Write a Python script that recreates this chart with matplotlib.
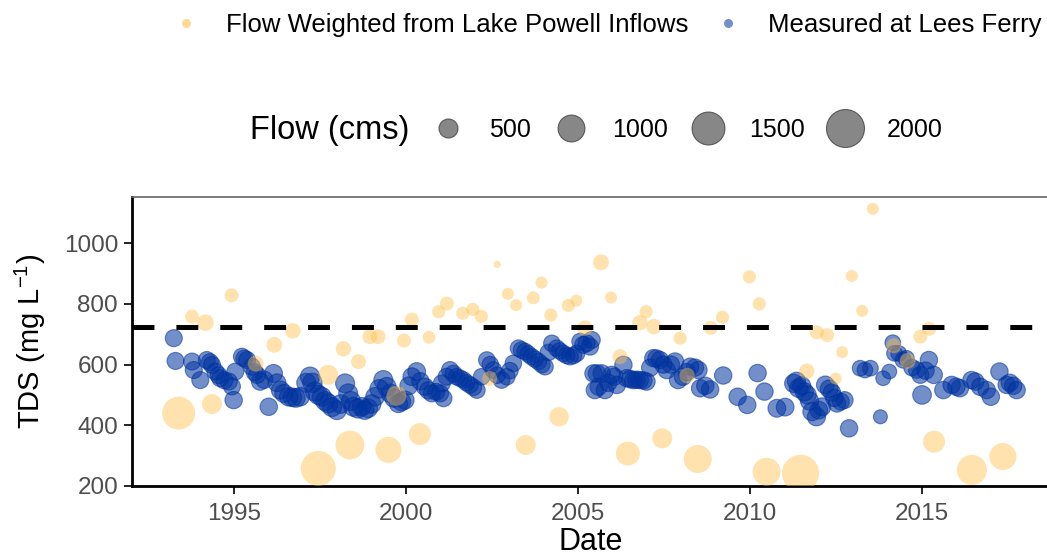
import matplotlib
matplotlib.use("Agg")
import matplotlib.pyplot as plt
from matplotlib.lines import Line2D

plt.rcParams["font.family"] = ["Liberation Sans", "DejaVu Sans"]
plt.rcParams["lines.scale_dashes"] = False

# ---- data -------------------------------------------------------------
# Flow weighted TDS of the Lake Powell inflows (decimal year, mg/L, cms)
inflow_date = [1993.39, 1993.78, 1994.17, 1994.36, 1994.93, 1995.63, 1996.17, 1996.71,
               1997.45, 1997.74, 1998.18, 1998.37, 1998.62, 1998.95, 1999.19, 1999.49,
               1999.72, 1999.94, 2000.17, 2000.40, 2000.67, 2000.95, 2001.19, 2001.65,
               2001.94, 2002.19, 2002.43, 2002.65, 2002.96, 2003.20, 2003.48, 2003.70,
               2003.94, 2004.21, 2004.45, 2004.72, 2004.95, 2005.20, 2005.67, 2005.96,
               2006.22, 2006.45, 2006.80, 2006.98, 2007.21, 2007.45, 2007.97, 2008.17,
               2008.48, 2008.86, 2009.20, 2009.98, 2010.27, 2010.48, 2011.47, 2011.65,
               2011.94, 2012.24, 2012.49, 2012.68, 2012.96, 2013.26, 2013.57, 2014.18,
               2014.58, 2014.95, 2015.21, 2015.35, 2016.45, 2017.35]
inflow_tds = [440, 758, 738, 470, 828, 603, 665, 711,
              258, 566, 652, 335, 610, 692, 692, 319,
              497, 679, 748, 371, 690, 774, 801, 769,
              782, 759, 554, 930, 833, 796, 335, 820,
              870, 763, 428, 795, 811, 720, 937, 821,
              626, 307, 738, 774, 725, 357, 687, 564,
              289, 721, 756, 889, 800, 247, 242, 578,
              706, 697, 554, 641, 892, 777, 1113, 662,
              612, 692, 718, 346, 253, 297]
inflow_flow = [1500, 270, 380, 550, 270, 350, 350, 330,
               1700, 550, 330, 1150, 310, 310, 310, 940,
               550, 270, 270, 670, 230, 240, 270, 240,
               240, 240, 310, 70, 200, 200, 550, 230,
               200, 240, 520, 240, 200, 330, 350, 200,
               310, 800, 330, 240, 330, 550, 240, 330,
               1085, 270, 240, 240, 240, 1085, 1900, 330,
               270, 270, 200, 200, 200, 200, 200, 310,
               350, 270, 270, 670, 1250, 1010]

# TDS measured at Lees Ferry (decimal year, mg/L, cms)
lees_date = [1993.25, 1993.30, 1993.78, 1993.83, 1994.02, 1994.21, 1994.30, 1994.36, 1994.46,
             1994.55, 1994.60, 1994.72, 1994.85, 1994.94, 1994.99, 1995.04, 1995.23, 1995.30,
             1995.38, 1995.52, 1995.60, 1995.67, 1995.76, 1995.88, 1996.01, 1996.15, 1996.25,
             1996.35, 1996.45, 1996.59, 1996.70, 1996.80, 1996.92, 1997.10, 1997.21, 1997.28,
             1997.35, 1997.45, 1997.55, 1997.65, 1997.74, 1997.85, 1997.99, 1998.10, 1998.23,
             1998.32, 1998.40, 1998.47, 1998.60, 1998.71, 1998.80, 1998.90, 1999.00, 1999.10,
             1999.22, 1999.34, 1999.44, 1999.55, 1999.65, 1999.78, 1999.87, 1999.97, 2000.08,
             2000.17, 2000.31, 2000.42, 2000.55, 2000.65, 2000.75, 2000.88, 2000.99, 2001.04,
             2001.09, 2001.18, 2001.28, 2001.38, 2001.47, 2001.57, 2001.67, 2001.76, 2001.86,
             2001.96, 2002.06, 2002.20, 2002.35, 2002.45, 2002.54, 2002.65, 2002.78, 2002.93,
             2003.02, 2003.12, 2003.27, 2003.36, 2003.46, 2003.55, 2003.65, 2003.75, 2003.85,
             2003.95, 2004.04, 2004.14, 2004.24, 2004.38, 2004.47, 2004.57, 2004.67, 2004.77,
             2004.87, 2004.96, 2005.06, 2005.15, 2005.25, 2005.35, 2005.40, 2005.45, 2005.49,
             2005.55, 2005.60, 2005.69, 2005.78, 2005.88, 2005.98, 2006.05, 2006.13, 2006.32,
             2006.42, 2006.52, 2006.61, 2006.70, 2006.80, 2006.90, 2006.99, 2007.10, 2007.19,
             2007.28, 2007.38, 2007.48, 2007.58, 2007.70, 2007.82, 2007.91, 2008.05, 2008.16,
             2008.26, 2008.40, 2008.50, 2008.55, 2008.70, 2008.84, 2009.22, 2009.64, 2009.92,
             2010.22, 2010.42, 2010.78, 2011.02, 2011.27, 2011.35, 2011.41, 2011.50, 2011.58,
             2011.66, 2011.73, 2011.80, 2011.93, 2012.00, 2012.09, 2012.19, 2012.30, 2012.38,
             2012.45, 2012.53, 2012.64, 2012.75, 2012.88, 2013.20, 2013.34, 2013.50, 2013.79,
             2013.87, 2014.05, 2014.15, 2014.20, 2014.32, 2014.45, 2014.54, 2014.71, 2014.85,
             2014.95, 2015.00, 2015.10, 2015.20, 2015.34, 2015.62, 2015.86, 2016.00, 2016.10,
             2016.44, 2016.55, 2016.69, 2016.88, 2017.00, 2017.25, 2017.46, 2017.55, 2017.65,
             2017.75]
lees_tds = [687, 612, 610, 582, 549, 615, 608, 599, 577,
            565, 555, 548, 544, 528, 483, 577, 626, 620,
            615, 593, 575, 566, 544, 550, 461, 571, 540,
            516, 505, 494, 492, 490, 494, 540, 560, 540,
            511, 500, 494, 480, 472, 460, 450, 470, 538,
            505, 480, 461, 455, 461, 450, 456, 470, 494,
            520, 549, 527, 505, 490, 472, 478, 483, 530,
            560, 577, 545, 527, 515, 505, 510, 505, 538,
            489, 560, 582, 570, 560, 555, 549, 540, 533,
            525, 516, 560, 615, 600, 582, 565, 549, 560,
            580, 604, 654, 648, 643, 635, 626, 618, 610,
            600, 593, 640, 670, 654, 645, 637, 630, 626,
            630, 637, 676, 665, 670, 659, 681, 571, 516,
            571, 527, 571, 516, 540, 566, 560, 533, 599,
            555, 552, 549, 550, 549, 548, 544, 590, 621,
            620, 615, 600, 582, 600, 610, 549, 560, 575,
            593, 590, 582, 522, 530, 518, 564, 494, 467,
            572, 511, 456, 460, 538, 545, 522, 530, 510,
            500, 480, 445, 428, 450, 461, 533, 520, 508,
            490, 472, 478, 483, 390, 588, 582, 588, 428,
            555, 577, 672, 637, 637, 615, 620, 590, 582,
            566, 500, 580, 615, 566, 516, 533, 527, 522,
            549, 544, 527, 516, 494, 577, 533, 540, 530,
            516]
lees_flow = [400, 400, 400, 400, 400, 400, 400, 400, 400,
             400, 400, 400, 400, 400, 420, 400, 400, 400,
             400, 400, 400, 400, 420, 420, 420, 440, 440,
             460, 460, 480, 480, 480, 480, 500, 520, 520,
             500, 500, 500, 500, 500, 500, 500, 480, 500,
             500, 500, 500, 500, 480, 480, 480, 480, 480,
             480, 500, 480, 480, 480, 470, 470, 460, 440,
             440, 440, 420, 420, 420, 400, 400, 400, 400,
             400, 400, 400, 400, 380, 380, 380, 380, 380,
             380, 380, 380, 380, 380, 380, 380, 380, 380,
             380, 380, 380, 380, 380, 380, 380, 380, 380,
             380, 380, 380, 380, 380, 380, 380, 380, 380,
             380, 380, 380, 400, 400, 400, 400, 420, 420,
             420, 420, 420, 420, 420, 420, 420, 420, 420,
             420, 420, 420, 420, 420, 420, 420, 420, 420,
             420, 420, 420, 420, 420, 420, 420, 420, 420,
             420, 420, 420, 420, 420, 420, 420, 420, 420,
             420, 420, 440, 440, 460, 460, 460, 460, 460,
             460, 460, 460, 460, 440, 440, 440, 440, 420,
             420, 420, 400, 400, 420, 340, 340, 340, 270,
             300, 300, 340, 340, 340, 360, 360, 380, 380,
             400, 480, 420, 420, 420, 420, 420, 420, 420,
             420, 420, 420, 420, 420, 420, 420, 420, 420,
             420]

tds_standard = 723
flow_breaks = [500, 1000, 1500, 2000]
year_ticks = [1995, 2000, 2005, 2010, 2015]
tds_ticks = [200, 400, 600, 800, 1000]

inflow_label = "Flow Weighted from Lake Powell Inflows"
lees_label = "Measured at Lees Ferry"

# ---- styling ------------------------------------------------------------
inflow_color = "#FFC04C"
lees_color = "#0033A0"
inflow_alpha = 0.45
lees_alpha = 0.55
tick_grey = "#4D4D4D"


def area(flow):
    """Marker area (points^2) proportional to flow."""
    return [0.3745 * f for f in flow]


W, H = 1047, 558
fig = plt.figure(figsize=(W / 100, H / 100), dpi=100)
ax = fig.add_axes([132 / W, (H - 486) / H, (1050 - 132) / W, (486 - 197) / H])

ax.scatter(lees_date, lees_tds, s=area(lees_flow), color=lees_color, alpha=lees_alpha,
           edgecolors=lees_color, linewidths=0.8, zorder=2)
ax.scatter(inflow_date, inflow_tds, s=area(inflow_flow), color=inflow_color, alpha=inflow_alpha,
           linewidths=0, zorder=3)

ax.set_xlim(1992.035, 2018.72)
ax.set_ylim(200, 1152)
std = ax.axhline(tds_standard, color="black", lw=3.6, zorder=4)
std.set_dashes((15.8, 15.8))

ax.set_xticks(year_ticks)
ax.set_xticklabels([str(y) for y in year_ticks])
ax.set_yticks(tds_ticks)
ax.tick_params(axis="both", labelsize=17.5, labelcolor=tick_grey, colors="#222222",
               length=6, width=1.4, direction="out")
ax.tick_params(axis="x", pad=6)
ax.tick_params(axis="y", pad=4)
for lab in ax.get_xticklabels() + ax.get_yticklabels():
    lab.set_color(tick_grey)

for side in ("left", "bottom"):
    ax.spines[side].set_color("black")
    ax.spines[side].set_linewidth(2.0)
ax.spines["top"].set_color("#666666")
ax.spines["top"].set_linewidth(1.2)
ax.spines["right"].set_visible(False)

ax.set_xlabel("Date", fontsize=22, labelpad=2)
ax.set_ylabel(r"TDS (mg L$^{\mathregular{-1}}$)", fontsize=21, labelpad=11)

# ---- legends ------------------------------------------------------------
colour_handles = [
    Line2D([], [], linestyle="none", marker="o", markersize=6.5, markeredgewidth=0,
           markerfacecolor=inflow_color, alpha=0.6),
    Line2D([], [], linestyle="none", marker="o", markersize=6.5, markeredgewidth=0,
           markerfacecolor=lees_color, alpha=0.55),
]
fig.legend(colour_handles, [inflow_label, lees_label], loc="center left",
           bbox_to_anchor=(166 / W, 1 - 25 / H), ncol=2, frameon=False, fontsize=18.5,
           handlelength=1.55, handletextpad=0.8, columnspacing=0.75, borderpad=0,
           borderaxespad=0)

size_handles = [
    Line2D([], [], linestyle="none", marker="o", markersize=(0.3745 * f) ** 0.5,
           markerfacecolor="#555555", markeredgecolor="#333333", markeredgewidth=0.8,
           alpha=0.7)
    for f in flow_breaks
]
fig.legend(size_handles, [str(f) for f in flow_breaks], loc="center left",
           bbox_to_anchor=(428 / W, 1 - 130 / H), ncol=4, frameon=False, fontsize=18,
           handlelength=1.6, handletextpad=0.85, columnspacing=0.8, borderpad=0,
           borderaxespad=0)
fig.text(250 / W, 1 - 130 / H, "Flow (cms)", fontsize=23.5, ha="left", va="center")

fig.savefig("out.png", dpi=100)
